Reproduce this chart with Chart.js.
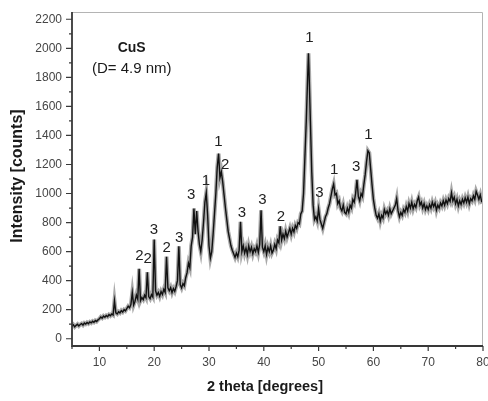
<!DOCTYPE html>
<html><head><meta charset="utf-8">
<script src="https://cdn.jsdelivr.net/npm/chart.js@4.4.1/dist/chart.umd.min.js"></script>
<style>html,body{margin:0;padding:0;background:#fff;}</style>
</head><body>
<canvas id="c" width="488" height="401" style="display:block;width:488px;height:401px"></canvas>
<script>
// 2 theta (degrees)
const twoTheta = [
5,5.25,5.5,5.75,6,6.25,6.5,6.75,7,7.25,7.5,7.75,8,8.25,8.5,8.75,9,9.25,9.5,9.75,
10,10.25,10.5,10.75,11,11.25,11.5,11.75,12,12.25,12.5,12.75,13,13.25,13.5,13.75,14,14.25,14.5,14.75,
15,15.25,15.5,15.75,16,16.25,16.5,16.75,17,17.25,17.5,17.75,18,18.25,18.5,18.75,19,19.25,19.5,19.75,
20,20.25,20.5,20.75,21,21.25,21.5,21.75,22,22.25,22.5,22.75,23,23.25,23.5,23.75,24,24.25,24.5,24.75,
25,25.25,25.5,25.75,26,26.25,26.5,26.75,27,27.25,27.5,27.75,28,28.25,28.5,28.75,29,29.25,29.5,29.75,
30,30.25,30.5,30.75,31,31.25,31.5,31.75,32,32.25,32.5,32.75,33,33.25,33.5,33.75,34,34.25,34.5,34.75,
35,35.25,35.5,35.75,36,36.25,36.5,36.75,37,37.25,37.5,37.75,38,38.25,38.5,38.75,39,39.25,39.5,39.75,
40,40.25,40.5,40.75,41,41.25,41.5,41.75,42,42.25,42.5,42.75,43,43.25,43.5,43.75,44,44.25,44.5,44.75,
45,45.25,45.5,45.75,46,46.25,46.5,46.75,47,47.25,47.5,47.75,48,48.15,48.25,48.5,48.75,49,49.25,49.5,49.75,
50,50.25,50.5,50.75,51,51.25,51.5,51.75,52,52.25,52.5,52.75,53,53.25,53.5,53.75,54,54.25,54.5,54.75,
55,55.25,55.5,55.75,56,56.25,56.5,56.75,57,57.25,57.5,57.75,58,58.25,58.5,58.75,59,59.25,59.5,59.75,
60,60.25,60.5,60.75,61,61.25,61.5,61.75,62,62.25,62.5,62.75,63,63.25,63.5,63.75,64,64.25,64.5,64.75,
65,65.25,65.5,65.75,66,66.25,66.5,66.75,67,67.25,67.5,67.75,68,68.25,68.5,68.75,69,69.25,69.5,69.75,
70,70.25,70.5,70.75,71,71.25,71.5,71.75,72,72.25,72.5,72.75,73,73.25,73.5,73.75,74,74.25,74.5,74.75,
75,75.25,75.5,75.75,76,76.25,76.5,76.75,77,77.25,77.5,77.75,78,78.25,78.5,78.75,79,79.25,79.5,79.75,80
];
// Intensity (counts)
const intensity = [
85,96,82,92,100,88,98,104,94,108,101,112,104,116,109,120,113,125,118,130,
138,150,142,156,148,160,152,166,158,170,163,262,178,170,186,178,194,184,200,192,
208,224,214,236,318,232,258,300,272,482,262,284,270,300,282,458,290,276,304,288,
683,330,300,318,292,325,305,340,320,565,350,330,352,318,345,326,360,400,636,372,
350,380,365,420,455,520,490,640,700,897,720,880,740,650,600,680,800,940,1005,850,
640,555,600,720,860,1000,1180,1275,1110,1150,1080,990,900,820,740,690,640,610,585,560,
590,565,610,805,600,640,590,625,580,640,600,630,585,620,600,640,595,650,885,630,
600,640,580,630,600,640,590,610,650,620,680,660,775,680,720,690,740,700,730,760,
720,760,735,780,760,800,790,860,880,1000,1250,1500,1800,1966,1850,1500,1150,920,820,840,810,
895,820,790,760,800,840,860,900,930,980,1030,1065,990,1000,930,950,900,880,920,870,
860,900,870,920,900,960,940,1000,1095,980,950,1000,980,1060,1130,1220,1295,1280,1170,1060,
960,900,850,830,860,810,850,830,890,860,880,850,895,860,880,900,920,965,880,840,
870,850,890,870,910,880,930,900,940,895,925,905,950,975,920,940,900,930,890,915,
890,925,900,940,910,935,885,920,900,935,915,950,920,955,930,965,945,1005,950,975,
930,960,915,950,925,960,935,970,940,975,930,965,950,985,960,1015,990,960,990,945,950
];
// Axis ticks
const xTicks = [10,20,30,40,50,60,70,80];
const xMinorTicks = [5,15,25,35,45,55,65,75];
const yTicks = [0,200,400,600,800,1000,1200,1400,1600,1800,2000,2200];
const yMinorTicks = [100,300,500,700,900,1100,1300,1500,1700,1900,2100];
// Peak labels (phase index) and their anchor in data coordinates
const peakText  = ['2','2','3','2','3','3','1','1','2','3','3','2','1','3','1','3','1'];
const peakTheta = [17.29,18.82,19.97,22.29,24.54,26.73,29.42,31.72,32.94,35.99,39.75,43.11,48.33,50.16,52.84,56.86,59.11];
const peakInt   = [574,547,752,628,697,993,1087,1356,1195,866,959,839,2069,1004,1161,1184,1402];
// Sample annotation
const sampleName = 'CuS';
const sampleSize = '(D= 4.9 nm)';
const xTitle = '2 theta [degrees]';
const yTitle = 'Intensity [counts]';

const FONT = '"Liberation Sans", Arial, sans-serif';

const deco = {
  id: 'deco',
  afterDraw(chart) {
    const ctx = chart.ctx, xs = chart.scales.x, ys = chart.scales.y, a = chart.chartArea;
    ctx.save();
    ctx.strokeStyle = '#b4b4b4'; ctx.lineWidth = 1;
    ctx.beginPath();
    ctx.moveTo(a.left, a.top + 0.5); ctx.lineTo(a.right - 0.5, a.top + 0.5); ctx.lineTo(a.right - 0.5, a.bottom);
    ctx.stroke();
    ctx.strokeStyle = '#383838'; ctx.lineWidth = 1.8;
    ctx.beginPath();
    ctx.moveTo(a.left, a.top); ctx.lineTo(a.left, a.bottom); ctx.lineTo(a.right, a.bottom);
    ctx.stroke();
    ctx.lineWidth = 1.2;
    ctx.beginPath();
    xTicks.forEach(v => { const p = xs.getPixelForValue(v); ctx.moveTo(p, a.bottom); ctx.lineTo(p, a.bottom + 5); });
    xMinorTicks.forEach(v => { const p = xs.getPixelForValue(v); ctx.moveTo(p, a.bottom); ctx.lineTo(p, a.bottom + 3); });
    yTicks.forEach(v => { const p = ys.getPixelForValue(v); ctx.moveTo(a.left, p); ctx.lineTo(a.left - 6, p); });
    yMinorTicks.forEach(v => { const p = ys.getPixelForValue(v); ctx.moveTo(a.left, p); ctx.lineTo(a.left - 3, p); });
    ctx.stroke();
    ctx.fillStyle = '#454545';
    ctx.font = '12px ' + FONT;
    ctx.textAlign = 'center'; ctx.textBaseline = 'middle';
    xTicks.forEach(v => ctx.fillText(String(v), xs.getPixelForValue(v), a.bottom + 17));
    ctx.textAlign = 'right';
    yTicks.forEach(v => ctx.fillText(String(v), a.left - 10, ys.getPixelForValue(v)));
    ctx.fillStyle = '#1a1a1a';
    ctx.font = 'bold 14.5px ' + FONT;
    ctx.textAlign = 'center';
    ctx.fillText(xTitle, 265, 387);
    ctx.save();
    ctx.translate(18, 176); ctx.rotate(-Math.PI / 2);
    ctx.font = 'bold 16px ' + FONT;
    ctx.fillText(yTitle, 0, 0);
    ctx.restore();
    ctx.font = 'bold 14px ' + FONT;
    ctx.fillText(sampleName, 131.7, 48);
    ctx.font = '15px ' + FONT;
    ctx.fillText(sampleSize, 131.7, 68.5);
    ctx.font = '15px ' + FONT;
    ctx.fillStyle = '#222';
    peakText.forEach((t, i) => ctx.fillText(t, xs.getPixelForValue(peakTheta[i]), ys.getPixelForValue(peakInt[i])));
    ctx.restore();
  }
};

const points = twoTheta.map((t, i) => ({ x: t, y: intensity[i] }));

new Chart(document.getElementById('c'), {
  type: 'line',
  data: {
    datasets: [{
      data: points,
      borderColor: '#111111',
      borderWidth: 1.4,
      pointRadius: 0,
      tension: 0,
      fill: false,
      order: 1
    }, {
      data: points,
      borderColor: 'rgba(40,40,40,0.4)',
      borderWidth: 4,
      pointRadius: 0,
      tension: 0,
      fill: false,
      order: 2
    }]
  },
  options: {
    responsive: false,
    animation: false,
    devicePixelRatio: 1,
    layout: { padding: { top: 12, right: 5, left: 0, bottom: 0 } },
    plugins: { legend: { display: false }, tooltip: { enabled: false } },
    scales: {
      x: {
        type: 'linear', min: 5, max: 80,
        grid: { display: false }, border: { display: false },
        ticks: { display: false },
        afterFit(s) { s.height = 55; }
      },
      y: {
        type: 'linear', min: -50, max: 2250,
        grid: { display: false }, border: { display: false },
        ticks: { display: false },
        afterFit(s) { s.width = 72; }
      }
    }
  },
  plugins: [deco]
});
</script>
</body></html>
